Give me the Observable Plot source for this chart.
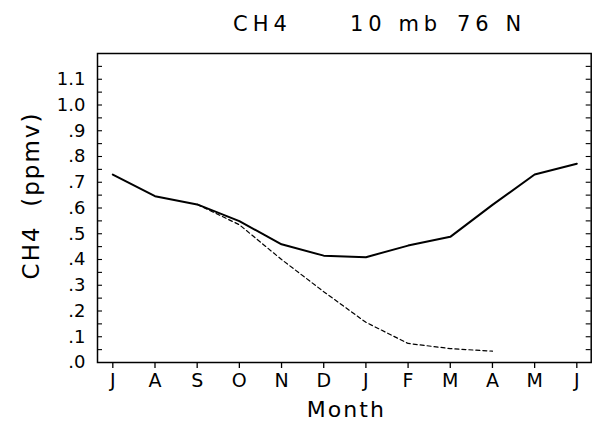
<!DOCTYPE html>
<html><head><meta charset="utf-8">
<script src="https://cdn.jsdelivr.net/npm/d3@7"></script>
<script src="https://cdn.jsdelivr.net/npm/@observablehq/plot@0.6"></script>
<style>
body{margin:0;background:#fff;width:593px;height:425px;overflow:hidden;font-family:"DejaVu Sans",sans-serif;color:#000;}
#title{position:relative;height:40px;font-size:21px;letter-spacing:5px;}
#title span{position:absolute;top:14px;line-height:21px;white-space:pre;}
</style></head><body>
<div id="title"><span style="left:233px">CH4</span><span style="left:350px">10 mb</span><span style="left:457px">76 N</span></div>
<div id="chart"></div>
<script>
// categories
const months = ["J","A","S","O","N","D","J","F","M","A","M","J"];
// series values (ppmv)
const solidValues = [0.730,0.646,0.614,0.549,0.459,0.415,0.409,0.454,0.488,0.612,0.730,0.772];
const dashedMonthIdx = [2,3,4,5,6,7,8,9];
const dashedValues = [0.614,0.535,0.400,0.275,0.156,0.074,0.054,0.044];
// tick labels
const yTicks = [0,0.1,0.2,0.3,0.4,0.5,0.6,0.7,0.8,0.9,1.0,1.1];
const yTickLabels = [".0",".1",".2",".3",".4",".5",".6",".7",".8",".9","1.0","1.1"];
const yMinorTicks = [0.05,0.1,0.15,0.2,0.25,0.3,0.35,0.4,0.45,0.5,0.55,0.6,0.65,0.7,0.75,0.8,0.85,0.9,0.95,1.0,1.05,1.1,1.15];
const yLabel = "CH4  (ppmv)";
const xLabel = "Month";

const solid = solidValues.map((v,i)=>({i, v}));
const dashed = dashedValues.map((v,k)=>({i: dashedMonthIdx[k], v}));

const W=593, H=385, mL=97, mR=2.3, mT=13, mB=63;
const frameW = W-mL-mR;

const chart = Plot.plot({
  width: W, height: H,
  marginLeft: mL, marginRight: mR, marginTop: mT, marginBottom: mB,
  style: {fontFamily: "DejaVu Sans", background: "#fff", color: "#000"},
  x: {domain: [-0.363, 11.341], axis: null},
  y: {domain: [0, 1.2], axis: null},
  marks: [
    Plot.axisX(d3.range(months.length), {tickSize: 6, tickPadding: 5, tickFormat: i => months[i], fontSize: 19, label: null, strokeWidth: 1.3}),
    Plot.axisY(yTicks, {anchor: "left", tickSize: 0, tickPadding: 12, tickFormat: d => yTickLabels[yTicks.indexOf(d)], fontSize: 18, label: null}),
    Plot.tickY(yMinorTicks, {y: d => d, insetRight: frameW - 5, strokeWidth: 1.1}),
    Plot.tickY(yMinorTicks, {y: d => d, insetLeft: frameW - 5, strokeWidth: 1.1}),
    Plot.frame({strokeWidth: 1.5}),
    Plot.line(dashed, {x: "i", y: "v", stroke: "#000", strokeWidth: 1.2, strokeDasharray: "4,3"}),
    Plot.line(solid, {x: "i", y: "v", stroke: "#000", strokeWidth: 2}),
    Plot.text([yLabel], {text: d => d, frameAnchor: "left", textAnchor: "middle", lineAnchor: "middle", rotate: -90, dx: -66, dy: -12.5, fontSize: 23}),
    Plot.text([xLabel], {text: d => d, frameAnchor: "bottom", textAnchor: "middle", lineAnchor: "middle", dy: 47, dx: 2, fontSize: 22})
  ]
});
d3.select(chart).selectAll("text").each(function(){
  const t = this.textContent;
  if (t === yLabel) this.style.letterSpacing = "2px";
  if (t === xLabel) this.style.letterSpacing = "2px";
});
document.getElementById("chart").appendChild(chart);
</script>
</body></html>
